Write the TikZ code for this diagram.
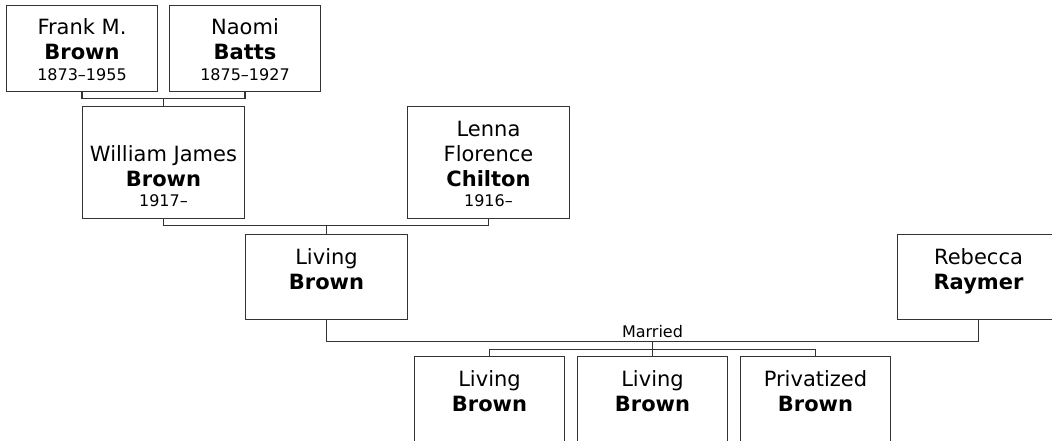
\documentclass[tikz,border=0pt]{standalone}
\usepackage{fontspec}
\setmainfont{DejaVu Sans}
\newcommand\boxtext[3]{\parbox[c][#1][t]{#2}{\centering\fontsize{21}{25}\selectfont\rule{0pt}{29.5pt}#3\par}}
\newcommand\yrs[1]{\\[-4.5pt]{\fontsize{16}{25}\selectfont #1}}
\tikzset{
  person/.style={draw=black!80, line width=1.2pt, fill=white, inner sep=0pt, outer sep=0pt, rectangle},
  link/.style={draw=black!80, line width=1.2pt},
  lbl/.style={font=\fontsize{16}{19}\selectfont, inner sep=0pt, anchor=base}
}
\begin{document}
\begin{tikzpicture}[x=1pt,y=-1pt]
\useasboundingbox (0,0) rectangle (1052,441);
\clip (0,0) rectangle (1052,441);
% row 1
\node[person] (frank) at (82,48.5) {\boxtext{86pt}{151pt}{Frank M.\\\textbf{Brown}\yrs{1873--1955}}};
\node[person] (naomi) at (245,48.5) {\boxtext{86pt}{151pt}{Naomi\\\textbf{Batts}\yrs{1875--1927}}};
% row 2
\node[person] (william) at (163.5,162.5) {\boxtext{112pt}{162pt}{\\William James\\\textbf{Brown}\yrs{1917--}}};
\node[person] (lenna) at (488.5,162.5) {\boxtext{112pt}{162pt}{Lenna\\Florence\\\textbf{Chilton}\yrs{1916--}}};
% row 3
\node[person] (living) at (326.5,277) {\boxtext{85pt}{162pt}{Living\\\textbf{Brown}}};
\node[person] (rebecca) at (978.5,277) {\boxtext{85pt}{162pt}{Rebecca\\\textbf{Raymer}}};
% row 4
\node[person] (c1) at (489.5,406.5) {\boxtext{100pt}{150pt}{Living\\\textbf{Brown}}};
\node[person] (c2) at (652.5,406.5) {\boxtext{100pt}{150pt}{Living\\\textbf{Brown}}};
\node[person] (c3) at (815.5,406.5) {\boxtext{100pt}{150pt}{Privatized\\\textbf{Brown}}};
% junctions
\coordinate (j1) at (163.5,98.5);
\coordinate (j2) at (326.5,225.5);
\coordinate (j3) at (652.5,341.5);
\coordinate (j4) at (652.5,349.5);
% connectors
\draw[link] (frank.south) |- (j1) -| (naomi.south);
\draw[link] (j1) -- (william.north);
\draw[link] (william.south) |- (j2) -| (lenna.south);
\draw[link] (j2) -- (living.north);
\draw[link] (living.south) |- (j3) -| (rebecca.south);
\draw[link] (j3) -- (c2.north);
\draw[link] (c1.north) |- (j4) -| (c3.north);
\node[lbl] (married) at (652.5,337) {Married};
\end{tikzpicture}
\end{document}
